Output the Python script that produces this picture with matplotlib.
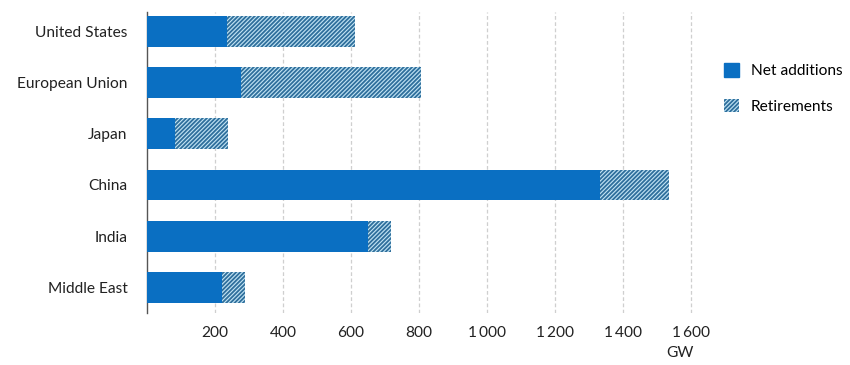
import numpy as np
import matplotlib
matplotlib.use("Agg")
import matplotlib.pyplot as plt
from matplotlib.patches import Patch

plt.rcParams['font.family'] = ['Lato', 'DejaVu Sans']
plt.rcParams['hatch.linewidth'] = 1.3

regions = ["United States", "European Union", "Japan", "China", "India", "Middle East"]
net_additions = [235, 276, 82, 1332, 650, 220]
retirements = [377, 530, 156, 203, 68, 68]
xticks = [200, 400, 600, 800, 1000, 1200, 1400, 1600]
xtick_labels = ["200", "400", "600", "800", "1\u2009000", "1\u2009200", "1\u2009400", "1\u2009600"]

blue = "#0a6fc2"
hatch_face = "#c2e4f4"
hatch_col = "#2f6f9c"

fig = plt.figure(figsize=(8.5, 3.65), dpi=100)
ax = fig.add_axes([0.173, 0.142, 0.648, 0.826])

y = np.arange(len(regions))
ax.barh(y, net_additions, height=0.6, color=blue, zorder=3)
ax.barh(y, retirements, left=net_additions, height=0.6, facecolor=hatch_face,
        edgecolor=hatch_col, hatch="////////", linewidth=0, zorder=3)

ax.set_ylim(5.5, -0.38)
ax.set_xlim(0, 1620)
ax.set_yticks(y)
ax.set_yticklabels(regions, fontsize=11.2, color="#222222")
ax.set_xticks(xticks)
ax.set_xticklabels(xtick_labels, fontsize=11.2, color="#222222")
ax.tick_params(axis="y", length=0, pad=14)
ax.tick_params(axis="x", length=0, pad=9)
ax.grid(axis="x", color="#cfcfcf", linestyle=(0, (3, 2)), linewidth=0.9, zorder=0)

for s in ["top", "right", "bottom"]:
    ax.spines[s].set_visible(False)
ax.spines["left"].set_color("#555555")
ax.spines["left"].set_linewidth(1.0)

fig.text(0.8, 0.022, "GW", fontsize=11.2, color="#222222", ha="center")

handles = [Patch(facecolor=blue, edgecolor=blue, label="Net additions"),
           Patch(facecolor=hatch_face, edgecolor=hatch_col, hatch="////////", linewidth=0, label="Retirements")]
fig.legend(handles=handles, loc="upper left", bbox_to_anchor=(0.835, 0.865), frameon=False,
           fontsize=11.2, handlelength=0.95, handleheight=0.95, labelspacing=1.3, handletextpad=0.8)

fig.savefig("out.png", dpi=100)
